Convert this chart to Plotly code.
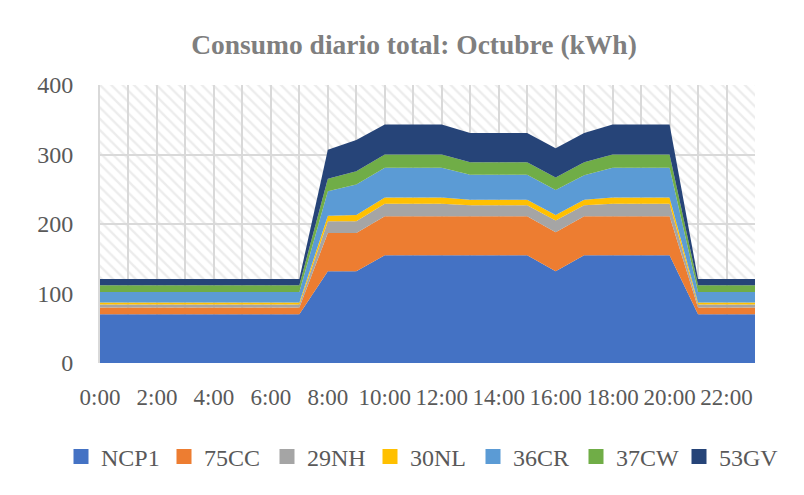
import plotly.graph_objects as go

hours = [f"{h}:00" for h in range(24)]
series_names = ["NCP1", "75CC", "29NH", "30NL", "36CR", "37CW", "53GV"]
ncp1 = [70]*8 + [132, 132, 155, 155, 155, 155, 155, 155, 132, 155, 155, 155, 155] + [70]*3
cc75 = [10]*8 + [55, 55, 56, 56, 56, 56, 56, 56, 56, 56, 56, 56, 56] + [10]*3
nh29 = [4]*8 + [17, 17, 18, 18, 18, 16, 16, 16, 17, 16, 18, 18, 18] + [4]*3
nl30 = [3]*8 + [8, 9, 9, 9, 9, 8, 8, 8, 8, 8, 9, 9, 9] + [3]*3
cr36 = [15]*8 + [35, 44, 43, 43, 43, 36, 36, 36, 36, 35, 43, 43, 43] + [15]*3
cw37 = [10]*8 + [18, 19, 19, 19, 19, 18, 18, 18, 18, 19, 19, 19, 19] + [10]*3
gv53 = [9]*8 + [42, 45, 43, 43, 43, 42, 42, 42, 42, 42, 43, 43, 43] + [9]*3
series_values = [ncp1, cc75, nh29, nl30, cr36, cw37, gv53]
colors = ["#4472C4", "#ED7D31", "#A5A5A5", "#FFC000", "#5B9BD5", "#70AD47", "#264478"]
y_ticks = [0, 100, 200, 300, 400]
y_max = 400

# page body has an 8px margin; compensate so the picture lines up
OFF = 8
W, H = 804 - OFF, 495 - OFF
L, T, R, B = 100 - OFF, 85 - OFF, 49, 132
PW, PH = W - L - R, H - T - B

x = list(range(len(hours)))
fig = go.Figure()

# hatched plot-area background (decoration)
fig.add_trace(go.Scatter(
    x=[x[0], x[-1]], y=[y_max, y_max], mode="none", fill="tozeroy",
    fillcolor="rgba(0,0,0,0)",
    fillpattern=dict(shape="\\", fgcolor="#dadada", bgcolor="rgba(0,0,0,0)",
                     size=8, solidity=0.3, fillmode="overlay"),
    showlegend=False, hoverinfo="skip"))

for name, vals, col in zip(series_names, series_values, colors):
    fig.add_trace(go.Scatter(
        x=x, y=vals, name=name, mode="none", stackgroup="one",
        fillcolor=col, showlegend=False))
    fig.add_trace(go.Scatter(
        x=[None], y=[None], name=name, mode="markers",
        marker=dict(symbol="square", size=15, color=col), showlegend=True))

font_family = "Liberation Serif"
fig.update_layout(
    width=W, height=H,
    margin=dict(l=L, r=R, t=T, b=B, autoexpand=False),
    paper_bgcolor="white", plot_bgcolor="white",
    title=dict(text="<b>Consumo diario total: Octubre (kWh)</b>",
               x=(414 - OFF) / W, xref="container", xanchor="center",
               y=1 - (44 - OFF) / H, yref="container", yanchor="middle",
               font=dict(family=font_family, size=27.5, color="#7f7f7f")),
    font=dict(family=font_family, color="#595959"),
    showlegend=True,
    legend=dict(orientation="h", x=(61 - 100) / PW, xref="paper", xanchor="left",
                y=(363 - 457) / PH, yref="paper", yanchor="middle",
                font=dict(family=font_family, size=24, color="#595959"),
                itemwidth=30, entrywidth=58, traceorder="normal"),
)
fig.update_xaxes(
    range=[x[0], x[-1]], tickvals=x,
    ticktext=[h if i % 2 == 0 else "" for i, h in enumerate(hours)],
    showgrid=True, gridcolor="#d9d9d9", gridwidth=2,
    showline=False, zeroline=False, ticks="",
    ticklabelstandoff=18,
    tickfont=dict(family=font_family, size=23, color="#595959"))
fig.update_yaxes(
    range=[0, y_max], tickvals=y_ticks,
    showgrid=True, gridcolor="#d9d9d9", gridwidth=2,
    showline=True, linecolor="#d9d9d9", linewidth=2,
    zeroline=False, ticks="", ticklabelstandoff=20,
    tickfont=dict(family=font_family, size=24, color="#595959"))

fig.write_html("out.html")
